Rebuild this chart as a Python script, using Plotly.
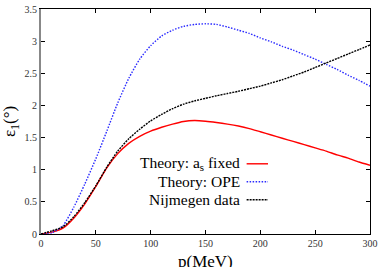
import plotly.graph_objects as go

p_mev = [0, 10, 20, 30, 40, 50, 60, 70, 80, 90, 100, 110, 120, 130, 140, 150,
         160, 170, 180, 190, 200, 210, 220, 230, 240, 250, 260, 270, 280, 290, 300]

theory_as_fixed = [0, 0.03, 0.09, 0.25, 0.47, 0.74, 1.03, 1.25, 1.41, 1.52, 1.60, 1.66,
                   1.71, 1.75, 1.765, 1.755, 1.735, 1.71, 1.68, 1.64, 1.59, 1.54, 1.49,
                   1.44, 1.39, 1.34, 1.29, 1.23, 1.18, 1.12, 1.07]

theory_ope = [0, 0.02, 0.13, 0.42, 0.78, 1.17, 1.60, 2.04, 2.42, 2.72, 2.93, 3.08, 3.17,
              3.23, 3.26, 3.27, 3.26, 3.22, 3.17, 3.12, 3.05, 2.99, 2.92, 2.86, 2.79,
              2.72, 2.64, 2.56, 2.47, 2.39, 2.30]

nijmegen = [0, 0.05, 0.11, 0.27, 0.49, 0.75, 1.04, 1.29, 1.48, 1.63, 1.76, 1.86, 1.95,
            2.02, 2.07, 2.11, 2.15, 2.185, 2.22, 2.26, 2.30, 2.35, 2.40, 2.46, 2.52,
            2.59, 2.66, 2.73, 2.80, 2.87, 2.94]

x_ticks = [0, 50, 100, 150, 200, 250, 300]
y_ticks = [0, 0.5, 1, 1.5, 2, 2.5, 3, 3.5]
y_tick_labels = ["0", "0.5", "1", "1.5", "2", "2.5", "3", "3.5"]

x_title = "p(MeV)"
y_title = "ε<sub>1</sub>(°)"
legend_labels = ["Theory: a<sub>s</sub> fixed", "Theory: OPE", "Nijmegen data"]
colors = ["#ff0000", "#2a2aff", "#000000"]
dashes = ["solid", "1.5px,1.5px", "2px,1px"]

serif = "Liberation Serif"

fig = go.Figure()
for y, c, d in zip([theory_as_fixed, theory_ope, nijmegen], colors, dashes):
    fig.add_trace(go.Scatter(x=p_mev, y=y, mode="lines",
                             line=dict(color=c, width=1.4, dash=d, shape="spline", smoothing=0.6),
                             showlegend=False, hoverinfo="skip"))

# dummy trace for right axis
fig.add_trace(go.Scatter(x=[None], y=[None], yaxis="y2", showlegend=False))

fig.update_layout(
    width=382, height=267,
    margin=dict(l=41, r=12, t=9, b=33),
    paper_bgcolor="white", plot_bgcolor="white",
    font=dict(family=serif, color="#222", size=10),
    xaxis=dict(range=[0, 300], tickvals=x_ticks, ticks="inside", ticklen=4,
               tickcolor="#000", showline=True, linecolor="#000", linewidth=1,
               mirror="ticks", showgrid=False, zeroline=False, automargin=False,
               tickfont=dict(size=10, family=serif, color="#333")),
    yaxis=dict(range=[0, 3.5], tickvals=y_ticks, ticktext=y_tick_labels, ticks="inside",
               ticklen=4, tickcolor="#000", showline=True, linecolor="#888",
               linewidth=2, mirror=False, showgrid=False, zeroline=False, automargin=False,
               tickfont=dict(size=10, family=serif, color="#333"),
               title=dict(text=y_title, font=dict(size=17, family=serif, color="#000"),
                          standoff=6)),
    yaxis2=dict(range=[0, 3.5], overlaying="y", side="right", tickvals=y_ticks,
                ticks="inside", ticklen=4, tickcolor="#000", showline=True,
                linecolor="#000", linewidth=1, showticklabels=False, showgrid=False,
                zeroline=False, automargin=False),
)

# x-axis title, placed low like the reference (partly cut by the page edge)
fig.add_annotation(xref="paper", yref="paper", x=0.5, y=-0.124, text=x_title,
                   showarrow=False, xanchor="center", yanchor="middle",
                   font=dict(size=17, family=serif, color="#000"))

# manual legend: text right-aligned, sample line on the right
row_y = [0.312, 0.232, 0.152]
for lab, c, d, ry in zip(legend_labels, colors, dashes, row_y):
    fig.add_annotation(xref="paper", yref="paper", x=0.611, y=ry, text=lab,
                       showarrow=False, xanchor="right", yanchor="middle",
                       font=dict(size=15.5, family=serif, color="#000"))
    fig.add_shape(type="line", xref="paper", yref="paper", x0=0.625, x1=0.69,
                  y0=ry, y1=ry, line=dict(color=c, width=1.4, dash=d))

fig.write_html("out.html", config={"displayModeBar": False},
               post_script="document.body.style.margin='0';")
